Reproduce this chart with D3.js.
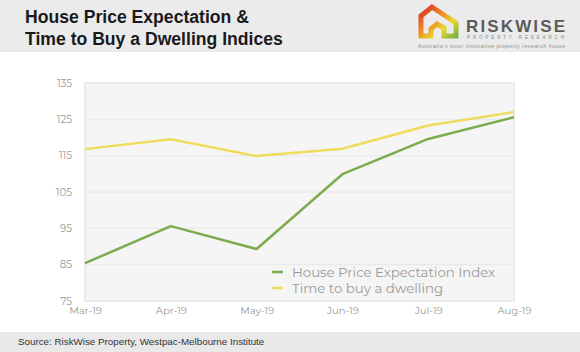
<!DOCTYPE html>
<html><head><meta charset="utf-8">
<script src="https://cdn.jsdelivr.net/npm/d3@7"></script>
<style>
body{margin:0;padding:0;background:#fff;}
svg{display:block;}
</style></head>
<body>
<svg id="chart" width="580" height="352"></svg>
<script>
const categories = ["Mar-19","Apr-19","May-19","Jun-19","Jul-19","Aug-19"];
const housePriceExpectation = [85.4, 95.6, 89.3, 109.9, 119.6, 125.6];
const timeToBuy = [116.8, 119.5, 114.9, 116.9, 123.3, 127.0];
const yTicks = [75, 85, 95, 105, 115, 125, 135];
const seriesNames = ["House Price Expectation Index", "Time to buy a dwelling"];
const seriesColors = ["#7dab4f", "#efdc5c"];

(function(){
const svg = d3.select("#chart");
svg.append("rect").attr("x",0).attr("y",0).attr("width",580).attr("height",52).attr("fill","#ebebeb");
svg.append("rect").attr("x",0).attr("y",332).attr("width",580).attr("height",20).attr("fill","#e9e9e9");

svg.append("text").attr("x",25).attr("y",23).attr("font-family","Liberation Sans, Arial, sans-serif")
  .attr("font-weight","bold").attr("font-size",17.6).attr("fill","#1a1a1a").text("House Price Expectation &");
svg.append("text").attr("x",25).attr("y",45).attr("font-family","Liberation Sans, Arial, sans-serif")
  .attr("font-weight","bold").attr("font-size",17.6).attr("fill","#1a1a1a").text("Time to Buy a Dwelling Indices");

svg.append("text").attr("x",18).attr("y",345).attr("font-family","Liberation Sans, Arial, sans-serif")
  .attr("font-size",9.8).attr("fill","#333").text("Source: RiskWise Property, Westpac-Melbourne Institute");

const defs = svg.append("defs");
const lg = defs.append("linearGradient").attr("id","lg").attr("x1","0").attr("y1","0").attr("x2","1").attr("y2","1");
lg.append("stop").attr("offset","0").attr("stop-color","#d8262a");
lg.append("stop").attr("offset","0.4").attr("stop-color","#ef8a22");
lg.append("stop").attr("offset","0.7").attr("stop-color","#e8d92c");
lg.append("stop").attr("offset","1").attr("stop-color","#7cb342");
svg.append("path")
  .attr("d","M421,32 L421,16 L432,7 L456,23 L456,36 L444,36 L444,28 L437,24 L431,29 L431,36 L421,36 Z")
  .attr("fill","none").attr("stroke","url(#lg)").attr("stroke-width",5).attr("stroke-linejoin","miter");
svg.append("text").attr("x",466).attr("y",32).attr("font-family","Liberation Sans, Arial, sans-serif")
  .attr("font-weight","bold").attr("font-size",17).attr("fill","#5c5c5c").attr("textLength",99).text("RISKWISE");
svg.append("text").attr("x",467).attr("y",39).attr("font-family","Liberation Sans, Arial, sans-serif")
  .attr("font-size",4.5).attr("fill","#888").attr("textLength",97).text("PROPERTY RESEARCH");
svg.append("text").attr("x",418).attr("y",48).attr("font-family","Liberation Sans, Arial, sans-serif")
  .attr("font-style","italic").attr("font-size",5).attr("fill","#888").attr("textLength",147).text("Australia's most innovative property research house");

const pl = 85, pr = 514, pt = 83, pb = 301;
const x = d3.scalePoint().domain(categories).range([pl, pr]);
const y = d3.scaleLinear().domain([75,135]).range([pb, pt]);

svg.append("rect").attr("x",pl).attr("y",pt).attr("width",pr-pl).attr("height",pb-pt)
  .attr("fill","#f5f5f5").attr("stroke","#dcdcdc").attr("stroke-width",1);

svg.append("g").selectAll("line").data(yTicks.slice(1,-1)).join("line")
  .attr("x1",pl).attr("x2",pr).attr("y1",d=>y(d)).attr("y2",d=>y(d))
  .attr("stroke","#e6e6e6").attr("stroke-width",1);

const yAxis = svg.append("g").attr("transform",`translate(${pl},0)`)
  .call(d3.axisLeft(y).tickValues(yTicks).tickSize(0).tickPadding(13));
yAxis.select(".domain").remove();
yAxis.selectAll("text").attr("font-family","Montserrat, Lato, 'Open Sans', sans-serif").attr("font-size",10.2).attr("fill","#999");

const xAxis = svg.append("g").attr("transform",`translate(0,${pb})`)
  .call(d3.axisBottom(x).tickSize(0).tickPadding(6));
xAxis.select(".domain").remove();
xAxis.selectAll("text").attr("font-family","Montserrat, Lato, 'Open Sans', sans-serif").attr("font-size",10).attr("fill","#999");

const line = d3.line().x((d,i)=>x(categories[i])).y(d=>y(d));
[timeToBuy, housePriceExpectation].forEach((s,k)=>{
  svg.append("path").datum(s).attr("d",line).attr("fill","none")
    .attr("stroke", seriesColors[1-k]).attr("stroke-width",2.5).attr("stroke-linejoin","round");
});

const leg = svg.append("g");
seriesNames.forEach((n,i)=>{
  const ly = 272 + i*16;
  leg.append("line").attr("x1",272).attr("x2",283).attr("y1",ly).attr("y2",ly)
    .attr("stroke",seriesColors[i]).attr("stroke-width",2.5);
  leg.append("text").attr("x",292).attr("y",ly+4.5).attr("font-family","Montserrat, Lato, 'Open Sans', sans-serif")
    .attr("font-size",13.3).attr("fill","#999").text(n);
});
})();
</script>
</body></html>
